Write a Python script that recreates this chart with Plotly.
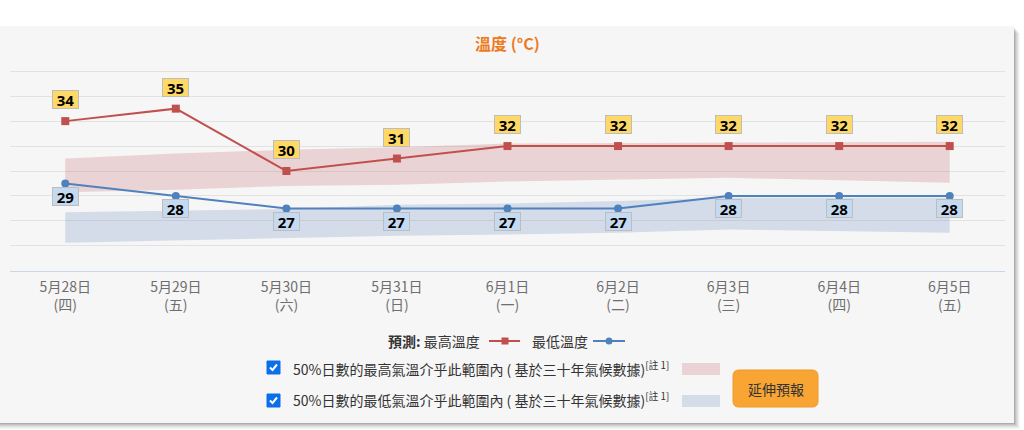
import plotly.graph_objects as go

# ---------------- data ----------------
dates = ["5月28日", "5月29日", "5月30日", "5月31日", "6月1日", "6月2日", "6月3日", "6月4日", "6月5日"]
weekdays = ["(四)", "(五)", "(六)", "(日)", "(一)", "(二)", "(三)", "(四)", "(五)"]
max_temp = [34, 35, 30, 31, 32, 32, 32, 32, 32]
min_temp = [29, 28, 27, 27, 27, 27, 28, 28, 28]
max_band_upper = [31.0, 31.4, 31.7, 31.9, 32.2, 32.25, 32.3, 32.3, 32.35]
max_band_lower = [28.3, 28.5, 28.8, 28.9, 29.15, 29.3, 29.45, 29.25, 29.05]
min_band_upper = [26.7, 26.85, 26.95, 27.3, 27.4, 27.6, 27.85, 27.85, 27.85]
min_band_lower = [24.25, 24.45, 24.65, 24.8, 24.9, 25.05, 25.3, 25.2, 25.05]

title_text = "溫度 (°C)"
legend_prefix = "預測:"
max_name = "最高溫度"
min_name = "最低溫度"
band_max_text = "50%日數的最高氣溫介乎此範圍內 ( 基於三十年氣候數據)"
band_min_text = "50%日數的最低氣溫介乎此範圍內 ( 基於三十年氣候數據)"
note_text = "[註 1]"
button_text = "延伸預報"

# ---------------- styles ----------------
W, H = 1024, 430
ML, MR, MT, MB = 10, 19, 70, 159
PW, PH = W - ML - MR, H - MT - MB
RED = "#c0504d"
BLUE = "#4f81bd"
RED_BAND = "rgba(192,77,82,0.2)"
BLUE_BAND = "rgba(77,122,182,0.2)"
CARD = "#f6f6f6"
CJK = "Noto Sans CJK TC"


def px(x):
    return (x - ML) / PW


def py(y):
    return (MT + PH - y) / PH


cats = [f"{d}<br>{w}" for d, w in zip(dates, weekdays)]

fig = go.Figure()

# bands
fig.add_trace(go.Scatter(x=cats, y=max_band_lower, mode="lines", line=dict(width=0),
                         showlegend=False, hoverinfo="skip"))
fig.add_trace(go.Scatter(x=cats, y=max_band_upper, mode="lines", line=dict(width=0),
                         fill="tonexty", fillcolor=RED_BAND, showlegend=False, hoverinfo="skip"))
fig.add_trace(go.Scatter(x=cats, y=min_band_lower, mode="lines", line=dict(width=0),
                         showlegend=False, hoverinfo="skip"))
fig.add_trace(go.Scatter(x=cats, y=min_band_upper, mode="lines", line=dict(width=0),
                         fill="tonexty", fillcolor=BLUE_BAND, showlegend=False, hoverinfo="skip"))

# lines
fig.add_trace(go.Scatter(x=cats, y=max_temp, mode="lines+markers", name=max_name,
                         line=dict(color=RED, width=2),
                         marker=dict(symbol="square", size=8, color=RED), showlegend=False))
fig.add_trace(go.Scatter(x=cats, y=min_temp, mode="lines+markers", name=min_name,
                         line=dict(color=BLUE, width=2),
                         marker=dict(symbol="circle", size=8, color=BLUE), showlegend=False))

annotations = []
# data labels
for c, v in zip(cats, max_temp):
    annotations.append(dict(x=c, y=v, xref="x", yref="y", text=f"<b>{v}</b>", showarrow=False,
                            yshift=21.5, bgcolor="#ffd966", bordercolor="#bdbdbd", borderwidth=1,
                            borderpad=0, width=25, height=17,
                            font=dict(family="Open Sans", size=15, color="#000")))
for c, v in zip(cats, min_temp):
    annotations.append(dict(x=c, y=v, xref="x", yref="y", text=f"<b>{v}</b>", showarrow=False,
                            yshift=-13, bgcolor="#c5d9f1", bordercolor="#bdbdbd", borderwidth=1,
                            borderpad=0, width=25, height=17,
                            font=dict(family="Open Sans", size=15, color="#000")))


def note(x, y, text, size=14, color="#333", xanchor="center"):
    return dict(x=px(x), y=py(y), xref="paper", yref="paper", xanchor=xanchor, yanchor="middle",
                text=text, showarrow=False, font=dict(family=CJK, size=size, color=color))


annotations.append(note(507, 43, f"<b>{title_text}</b>", size=16, color="#ee7a1e"))
annotations.append(note(482, 341, f"<b>{legend_prefix}</b> {max_name}", xanchor="right"))
annotations.append(note(530, 341, min_name, xanchor="left"))
annotations.append(note(291, 368, f"{band_max_text}<sup>{note_text}</sup>", xanchor="left"))
annotations.append(note(291, 400, f"{band_min_text}<sup>{note_text}</sup>", xanchor="left"))
annotations.append(note(776, 389, button_text, size=14))

shapes = []
# card shadow
for k, a in [(6, 0.03), (5, 0.04), (4, 0.05), (3, 0.06), (2, 0.08), (1, 0.1)]:
    shapes.append(dict(type="rect", xref="paper", yref="paper", layer="below",
                       x0=px(-5), x1=px(1014 + k), y0=py(27 + k), y1=py(423 + k),
                       fillcolor=f"rgba(0,0,0,{a})", line=dict(width=0)))
shapes.append(dict(type="rect", xref="paper", yref="paper", layer="below",
                   x0=px(-5), x1=px(1014), y0=py(26), y1=py(423),
                   fillcolor=CARD, line=dict(width=0)))

# legend markers
shapes.append(dict(type="line", xref="paper", yref="paper", x0=px(489), x1=px(520),
                   y0=py(341), y1=py(341), line=dict(color=RED, width=2)))
shapes.append(dict(type="rect", xref="paper", yref="paper", x0=px(501.5), x1=px(508.5),
                   y0=py(337.5), y1=py(344.5), fillcolor=RED, line=dict(width=0)))
shapes.append(dict(type="line", xref="paper", yref="paper", x0=px(593), x1=px(625),
                   y0=py(341), y1=py(341), line=dict(color=BLUE, width=2)))
shapes.append(dict(type="circle", xref="paper", yref="paper", x0=px(605.5), x1=px(612.5),
                   y0=py(337.5), y1=py(344.5), fillcolor=BLUE, line=dict(width=0)))


def check_box(cy):
    out = [dict(type="rect", xref="paper", yref="paper", x0=px(267), x1=px(280),
                y0=py(cy - 6.5), y1=py(cy + 6.5), fillcolor="#0b6fe8", line=dict(color="#0b6fe8", width=1))]
    path = (f"M {px(270)} {py(cy)} L {px(272.5)} {py(cy + 2.5)} L {px(277)} {py(cy - 3)}")
    out.append(dict(type="path", xref="paper", yref="paper", path=path,
                    line=dict(color="white", width=2)))
    return out


shapes += check_box(367.5)
shapes += check_box(400.5)

# swatches
shapes.append(dict(type="rect", xref="paper", yref="paper", x0=px(682), x1=px(720),
                   y0=py(363), y1=py(375), fillcolor=RED_BAND, line=dict(width=0)))
shapes.append(dict(type="rect", xref="paper", yref="paper", x0=px(682), x1=px(720),
                   y0=py(395), y1=py(407), fillcolor=BLUE_BAND, line=dict(width=0)))


def rounded(x0, y0, x1, y1, r):
    pts = [
        f"M {px(x0 + r)} {py(y0)}",
        f"L {px(x1 - r)} {py(y0)}",
        f"Q {px(x1)} {py(y0)} {px(x1)} {py(y0 + r)}",
        f"L {px(x1)} {py(y1 - r)}",
        f"Q {px(x1)} {py(y1)} {px(x1 - r)} {py(y1)}",
        f"L {px(x0 + r)} {py(y1)}",
        f"Q {px(x0)} {py(y1)} {px(x0)} {py(y1 - r)}",
        f"L {px(x0)} {py(y0 + r)}",
        f"Q {px(x0)} {py(y0)} {px(x0 + r)} {py(y0)}",
        "Z",
    ]
    return " ".join(pts)


shapes.append(dict(type="path", xref="paper", yref="paper", path=rounded(733, 370, 818, 407, 6),
                   fillcolor="#f9a533", line=dict(color="#eb9a2c", width=1)))

fig.update_layout(
    width=W, height=H,
    margin=dict(l=ML, r=MR, t=MT, b=MB, pad=0),
    paper_bgcolor="white",
    plot_bgcolor="rgba(0,0,0,0)",
    showlegend=False,
    annotations=annotations,
    shapes=shapes,
    xaxis=dict(type="category", range=[-0.5, len(cats) - 0.5], showgrid=False,
               showline=True, linecolor="#ccd6eb", linewidth=1, ticks="",
               ticklabelstandoff=3,
               tickfont=dict(family=CJK, size=14, color="#6e6e6e"), fixedrange=True),
    yaxis=dict(range=[21.98, 38.1], tickmode="linear", tick0=22, dtick=2,
               showgrid=True, gridcolor="#e2e2e2", gridwidth=1,
               showticklabels=False, zeroline=False, fixedrange=True),
)

fig.write_html("out.html", config={"displayModeBar": False})
